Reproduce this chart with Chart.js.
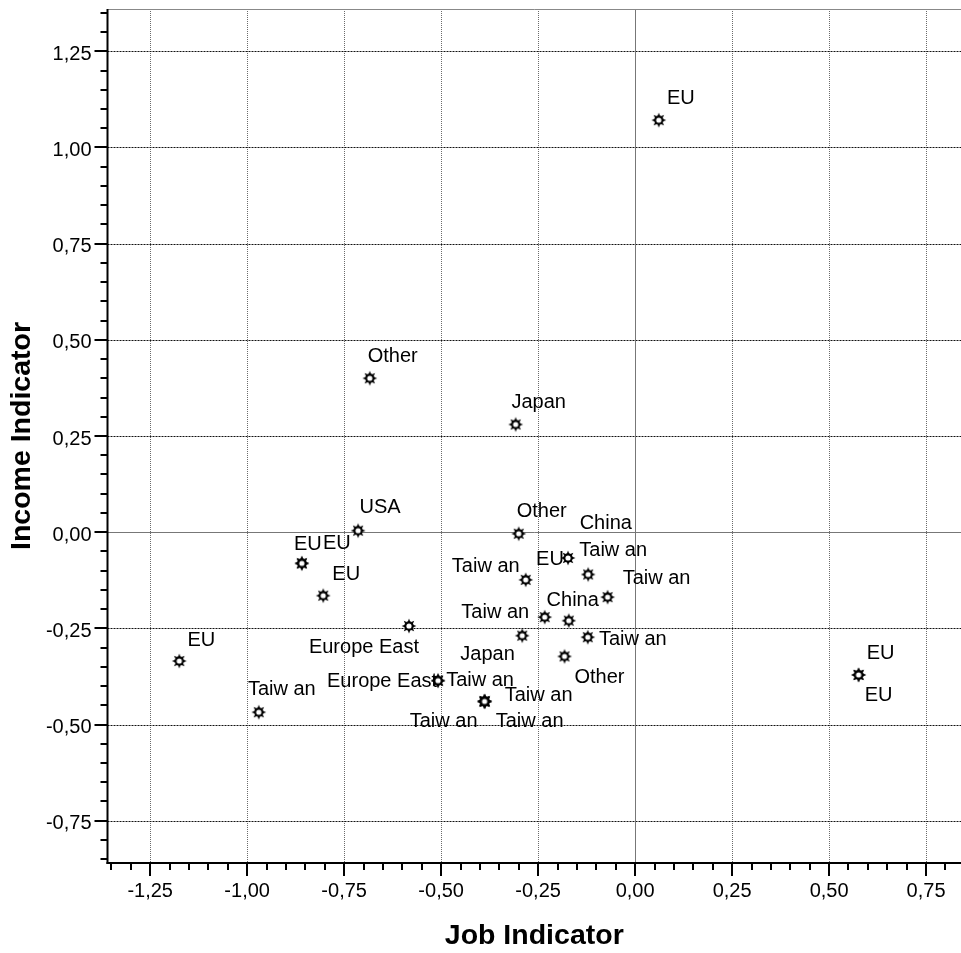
<!DOCTYPE html>
<html>
<head>
<meta charset="utf-8">
<script src="https://cdn.jsdelivr.net/npm/chart.js@4/dist/chart.umd.min.js"></script>
<style>
  html, body { margin: 0; padding: 0; background: #fff; }
  #c { display: block; }
</style>
</head>
<body>
<canvas id="c" width="961" height="953"></canvas>
<script>
// ---- data ----
const pointLabels = ['EU','Other','Japan','USA','EU','EU','EU','Europe East','Other','Taiw an',
  'EU','Taiw an','Taiw an','China','China','Taiw an','Taiw an','Other','Europe East','Taiw an',
  'Taiw an','Taiw an','Taiw an','Japan','EU','Taiw an','EU','EU'];
const jobIndicator = [0.061,-0.684,-0.308,-0.714,-0.859,-0.859,-0.804,-0.583,-0.300,-0.282,
  -0.173,-0.121,-0.071,-0.233,-0.171,-0.291,-0.122,-0.182,-0.508,-0.508,
  -0.388,-0.388,-0.388,-0.388,-1.175,-0.970,0.576,0.576];
const incomeIndicator = [1.071,0.400,0.280,0.004,-0.081,-0.081,-0.165,-0.244,-0.004,-0.124,
  -0.067,-0.110,-0.169,-0.221,-0.230,-0.269,-0.273,-0.323,-0.386,-0.386,
  -0.440,-0.440,-0.440,-0.440,-0.335,-0.468,-0.371,-0.371];
const xTickValues = [-1.25,-1.00,-0.75,-0.50,-0.25,0.00,0.25,0.50,0.75];
const yTickValues = [-0.75,-0.50,-0.25,0.00,0.25,0.50,0.75,1.00,1.25];
const xTitle = 'Job Indicator';
const yTitle = 'Income Indicator';

// ---- label placement (pixel offset of label centre from its point) ----
const labelOffsets = [[22,-22],[23,-22],[23,-22],[22,-23],[6,-19],[35,-20],[23,-21],[-45,21],[23,-22],[-40,-13],
  [-18,2],[25,-24],[49,-19],[28,-17],[37,-97],[-27,-23],[45,2],[35,21],[-56,1],[42,0],
  [54,-6],[-41,20],[45,20],[3,-47],[22,-21],[23,-23],[22,-21],[20,21]];

const FONT = "'Liberation Sans', Arial, sans-serif";
const fmt = v => (Math.round(v * 100) / 100).toFixed(2).replace('.', ',');

// star marker: ring with eight spikes
function makeStar() {
  const s = 20, c = document.createElement('canvas');
  c.width = s; c.height = s;
  const g = c.getContext('2d');
  const cx = s / 2, cy = s / 2, n = 8;
  g.fillStyle = '#000';
  for (let i = 0; i < n; i++) {
    const a = -Math.PI / 2 + i * 2 * Math.PI / n;
    const w = 0.36;
    g.beginPath();
    g.moveTo(cx + 4.0 * Math.cos(a - w), cy + 4.0 * Math.sin(a - w));
    g.lineTo(cx + 7.4 * Math.cos(a), cy + 7.4 * Math.sin(a));
    g.lineTo(cx + 4.0 * Math.cos(a + w), cy + 4.0 * Math.sin(a + w));
    g.closePath();
    g.fill();
  }
  g.beginPath();
  g.arc(cx, cy, 4.7, 0, Math.PI * 2);
  g.fill();
  g.beginPath();
  g.arc(cx, cy, 2.6, 0, Math.PI * 2);
  g.fillStyle = '#fff';
  g.fill();
  return c;
}
const starImg = makeStar();

const noPad = s => { s.paddingTop = 0; s.paddingBottom = 0; s.paddingLeft = 0; s.paddingRight = 0; };

const decor = {
  id: 'decor',
  beforeDatasetsDraw(chart) {
    const { ctx, chartArea: { left, right, top, bottom }, scales: { x, y } } = chart;
    ctx.save();
    ctx.lineWidth = 1;
    // vertical dotted grid
    ctx.strokeStyle = '#6a6a6a';
    ctx.setLineDash([1, 1]);
    xTickValues.forEach(v => {
      if (v === 0) return;
      const px = Math.round(x.getPixelForValue(v)) + 0.5;
      ctx.beginPath(); ctx.moveTo(px, top); ctx.lineTo(px, bottom); ctx.stroke();
    });
    // horizontal dotted grid
    ctx.strokeStyle = '#111';
    ctx.setLineDash([2, 1]);
    yTickValues.forEach(v => {
      if (v === 0) return;
      const py = Math.round(y.getPixelForValue(v)) + 0.5;
      ctx.beginPath(); ctx.moveTo(left, py); ctx.lineTo(right, py); ctx.stroke();
    });
    ctx.setLineDash([]);
    // zero reference lines
    ctx.strokeStyle = '#777';
    const zx = Math.round(x.getPixelForValue(0)) + 0.5;
    const zy = Math.round(y.getPixelForValue(0)) + 0.5;
    ctx.beginPath(); ctx.moveTo(zx, top); ctx.lineTo(zx, bottom); ctx.stroke();
    ctx.beginPath(); ctx.moveTo(left, zy); ctx.lineTo(right, zy); ctx.stroke();
    // top frame
    ctx.strokeStyle = '#888';
    ctx.beginPath(); ctx.moveTo(left, top + 0.5); ctx.lineTo(right, top + 0.5); ctx.stroke();
    // axes
    ctx.strokeStyle = '#000';
    ctx.lineWidth = 2;
    ctx.beginPath(); ctx.moveTo(left, top); ctx.lineTo(left, bottom + 1); ctx.stroke();
    ctx.beginPath(); ctx.moveTo(left - 1, bottom); ctx.lineTo(right, bottom); ctx.stroke();
    // tick marks (minor every 0.05, major every 0.25)
    const step = 0.05;
    for (let k = Math.ceil(x.min / step - 1e-9); k * step <= x.max + 1e-9; k++) {
      const v = k * step;
      const major = Math.abs(v / 0.25 - Math.round(v / 0.25)) < 1e-6;
      const px = Math.round(x.getPixelForValue(v));
      ctx.beginPath(); ctx.moveTo(px, bottom); ctx.lineTo(px, bottom + (major ? 13 : 7)); ctx.stroke();
    }
    for (let k = Math.ceil(y.min / step - 1e-9); k * step <= y.max + 1e-9; k++) {
      const v = k * step;
      const major = Math.abs(v / 0.25 - Math.round(v / 0.25)) < 1e-6;
      const py = Math.round(y.getPixelForValue(v));
      ctx.beginPath(); ctx.moveTo(left, py); ctx.lineTo(left - (major ? 13 : 7), py); ctx.stroke();
    }
    ctx.restore();
  },
  afterDatasetsDraw(chart) {
    const { ctx } = chart;
    const meta = chart.getDatasetMeta(0);
    ctx.save();
    ctx.font = '20px ' + FONT;
    ctx.fillStyle = '#000';
    ctx.textAlign = 'center';
    ctx.textBaseline = 'middle';
    meta.data.forEach((pt, i) => {
      const [dx, dy] = labelOffsets[i];
      ctx.fillText(pointLabels[i], pt.x + dx, pt.y + dy);
    });
    ctx.restore();
  }
};

new Chart(document.getElementById('c'), {
  type: 'scatter',
  data: {
    datasets: [{
      data: jobIndicator.map((v, i) => ({ x: v, y: incomeIndicator[i] })),
      pointStyle: starImg,
      pointRadius: 7
    }]
  },
  options: {
    responsive: false,
    animation: false,
    events: [],
    layout: { autoPadding: false, padding: { top: 9, right: 0, left: 0, bottom: 0 } },
    plugins: { legend: { display: false }, tooltip: { enabled: false } },
    scales: {
      x: {
        type: 'linear', position: 'bottom', min: -1.36, max: 0.84,
        afterBuildTicks: s => { s.ticks = xTickValues.map(v => ({ value: v })); },
        afterFit: s => { s.height = 90; noPad(s); },
        grid: { display: false, drawTicks: false },
        border: { display: false },
        ticks: { font: { family: FONT, size: 20 }, color: '#000', padding: 16, maxRotation: 0, autoSkip: false, callback: v => fmt(v) },
        title: { display: true, text: xTitle, color: '#000', font: { family: FONT, size: 28.5, weight: 'bold' }, padding: { top: 0, bottom: 0 } }
      },
      y: {
        type: 'linear', position: 'left', min: -0.86, max: 1.36,
        afterBuildTicks: s => { s.ticks = yTickValues.map(v => ({ value: v })); },
        afterFit: s => { s.width = 107.5; noPad(s); },
        grid: { display: false, drawTicks: false },
        border: { display: false },
        ticks: { font: { family: FONT, size: 20 }, color: '#000', padding: 16, labelOffset: 3, autoSkip: false, callback: v => fmt(v) },
        title: { display: true, text: yTitle, color: '#000', font: { family: FONT, size: 28.5, weight: 'bold' }, padding: { top: 5, bottom: 0 } }
      }
    }
  },
  plugins: [decor]
});
</script>
</body>
</html>
